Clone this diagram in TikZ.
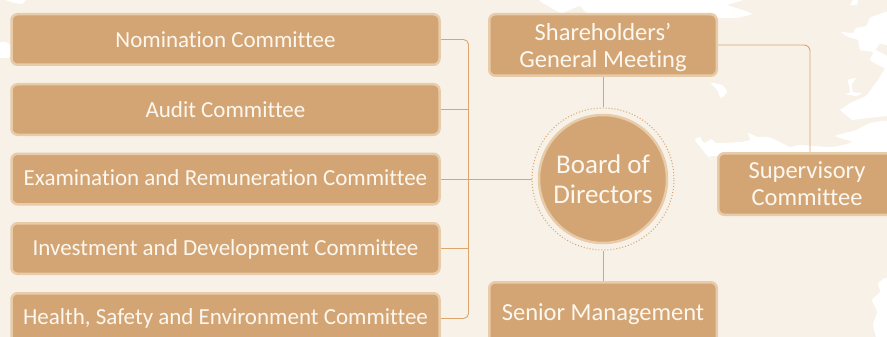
\documentclass[tikz,border=0pt]{standalone}
\usepackage{fontspec}
\setmainfont[Ligatures=CommonOff]{Carlito}
\definecolor{paper}{HTML}{F7F1E7}
\definecolor{tan}{HTML}{D4A574}
\definecolor{edge}{HTML}{E8CBA8}
\definecolor{wire}{HTML}{DDA56C}
\definecolor{label}{HTML}{FCF7EF}
\tikzset{
    box/.style={draw=edge, fill=tan, line width=2.5pt, rounded corners=6pt, text=label, align=center, inner sep=0pt, font=\fontsize{23}{27}\selectfont},
    committee/.style={box, minimum width=428pt, minimum height=50.5pt, text height=21pt, text depth=5pt},
    organ/.style={box, minimum width=227.5pt, minimum height=61.5pt, font=\fontsize{24.5}{27}\selectfont},
    wirestyle/.style={draw=wire, line width=0.9pt},
    blot/.style={fill=white, draw=none},
}
\begin{document}
\begin{tikzpicture}[x=1pt, y=-1pt]
    \useasboundingbox (0, 0) rectangle (887, 337);
    \clip (0, 0) rectangle (887, 337);
    \fill[paper] (0, 0) rectangle (887, 337);
    \fill[blot] plot[smooth cycle, tension=.4] coordinates {(0, -4) (8, 1) (22, 4) (26, -4)};
    \fill[blot] plot[smooth cycle, tension=.4] coordinates {(-4, 44) (6, 42) (14, 50) (8, 58) (-4, 56)};
    \fill[blot] plot[smooth cycle, tension=.3] coordinates {(545, -3) (550, 7) (562, 13) (580, 6) (592, 14) (700, 18) (735, 18) (752, 14) (740, 9) (728, 5) (742, -3)};
    \fill[blot] plot[smooth cycle, tension=.4] coordinates {(711, 83) (722, 85) (727, 92) (721, 98) (717, 90)};
    \fill[blot] plot[smooth cycle, tension=.3] coordinates {(841, 32) (853, 33) (856, 28) (866, 26) (870, 18) (877, 15) (890, 12) (890, 44) (880, 44) (876, 50) (887, 56) (890, 70) (880, 66) (870, 60) (873, 52) (860, 50) (858, 40) (848, 37)};
    \fill[blot] plot[smooth cycle, tension=.2] coordinates {(850, 5) (853, 0) (858, 0) (857, 5)};
    \fill[blot] plot[smooth cycle, tension=.3] coordinates {(845, 94) (850, 92) (848, 80) (856, 78) (852, 84) (853, 92) (862, 93) (856, 96)};
    \fill[blot] (840, 110) -- (850, 103) -- (866, 96) -- (878, 80) -- (887, 65) -- (887, 116) -- (868, 118) -- (852, 120) -- cycle;
    \fill[blot] plot[smooth cycle, tension=.3] coordinates {(695, 140) (700, 137) (704, 143) (712, 139) (716, 143) (740, 142) (750, 140) (748, 133) (758, 137) (768, 137) (778, 141) (790, 147) (800, 145) (832, 147) (852, 142) (835, 136) (856, 130) (870, 123) (890, 122) (890, 156) (716, 156) (712, 160) (705, 153)};
    \fill[blot] plot[smooth cycle, tension=.4] coordinates {(890, 280) (878, 283) (880, 292) (872, 300) (877, 312) (873, 325) (878, 340) (890, 340)};

    \node[committee] (nomination) at (225.5, 39.5) {Nomination Committee};
    \node[committee] (audit) at (225.5, 109.5) {Audit Committee};
    \node[committee, text height=17pt] (examination) at (225.5, 179) {Examination and Remuneration Committee};
    \node[committee, text height=19pt] (investment) at (225.5, 248.5) {Investment and Development Committee};
    \node[committee, text height=16pt] (health) at (225.5, 318.5) {Health, Safety and Environment Committee};

    \node[organ, text height=50pt, text depth=6pt] (shareholders) at (603, 45) {Shareholders’\\General Meeting};
    \node[organ, text height=20pt, text depth=5pt] (senior) at (603, 313) {Senior Management};
    \node[organ, minimum width=177.5pt] (supervisory) at (807, 184) {Supervisory\\Committee};

    \node[draw=edge, fill=tan, line width=2.5pt, circle, minimum size=128pt, inner sep=0pt, text=label, align=center, font=\fontsize{27}{30}\selectfont] (board) at (603, 179) {Board of\\Directors};
    \node[draw=wire, dotted, line width=1pt, circle, minimum size=142pt, inner sep=0pt] (ring) at (603, 179) {};

    \coordinate (bustop) at (468.5, 39.5);
    \coordinate (busbottom) at (468.5, 318.5);
    \coordinate (corner) at (810, 45);

    \draw[wirestyle, rounded corners=5pt] (nomination.east) -- (bustop) -- (busbottom) -- (health.east);
    \draw[wirestyle] (audit.east) -- (audit.east -| bustop);
    \draw[wirestyle] (investment.east) -- (investment.east -| bustop);
    \draw[wirestyle] (examination.east) -- (ring.west);
    \draw[wirestyle] (shareholders.south) -- (ring.north);
    \draw[wirestyle] (ring.south) -- (senior.north);
    \draw[wirestyle, rounded corners=6pt] (shareholders.east) -- (corner) -- (corner |- supervisory.north);
\end{tikzpicture}
\end{document}
